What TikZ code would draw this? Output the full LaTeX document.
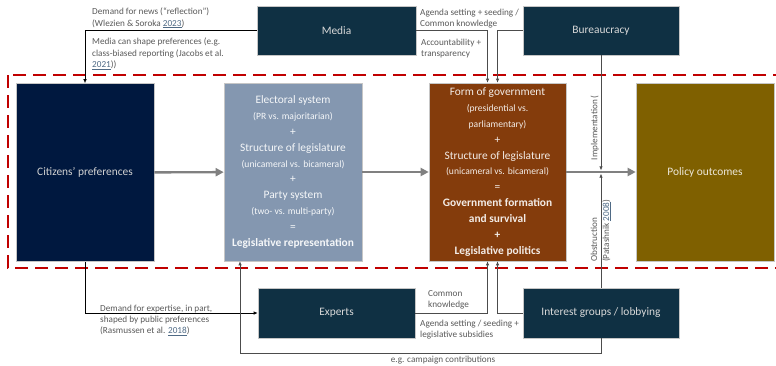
\documentclass[tikz,border=0pt]{standalone}
\usepackage{fontspec}
\setmainfont{Carlito}
\usetikzlibrary{arrows.meta}
\definecolor{citizensblue}{HTML}{00183F}
\definecolor{electoralgray}{HTML}{8497B0}
\definecolor{govbrown}{HTML}{843C0C}
\definecolor{policygold}{HTML}{7F6000}
\definecolor{actorteal}{HTML}{0F3043}
\definecolor{framered}{HTML}{C00000}
\definecolor{notegray}{HTML}{595959}
\definecolor{linkgray}{HTML}{4F6A85}
\newcommand{\refyear}[1]{{\color{linkgray}\underline{#1}}}
\newcommand{\subtext}[1]{{\fontsize{9.6}{15.9}\selectfont #1}}

\begin{document}
\begin{tikzpicture}[x = 1pt, y = -1pt]
\tikzstyle{BoxStyle}=[draw = gray!45, line width = 0.6pt, align = center, inner sep = 2pt,
font = \fontsize{11.4}{15.9}\selectfont]
\tikzstyle{BigBox}=[BoxStyle, minimum width = 138pt, minimum height = 178pt]
\tikzstyle{ActorBox}=[BoxStyle, fill = actorteal, text = gray!30, minimum width = 157pt,
minimum height = 49pt]
\tikzstyle{NoteStyle}=[font = \fontsize{9.2}{11.2}\selectfont, text = notegray, align = left,
inner sep = 0pt, anchor = north west]
\tikzstyle{LinkStyle}=[draw = black!70, line width = 0.7pt, -{Latex[length = 4pt, width = 3.5pt]}]
\tikzstyle{FlowStyle}=[draw = gray, line width = 2.4pt, -{Triangle[length = 8pt, width = 8pt]}]
\useasboundingbox (0,0) rectangle (776,365);
\draw[framered, line width = 2.6pt, dash pattern = on 13pt off 7pt] (8,75) rectangle (784,268);
\node[BigBox, fill = citizensblue, text = gray!35] (citizens) at (85,172.5) {Citizens’ preferences};
\node[BigBox, fill = electoralgray, text = white!92!electoralgray] (electoral) at (293,172)
{Electoral system\\ \subtext{(PR vs. majoritarian)}\\ +\\ Structure of legislature\\
\subtext{(unicameral vs. bicameral)}\\ +\\ Party system\\ \subtext{(two- vs. multi-party)}\\ =\\
\textbf{Legislative representation}};
\node[BigBox, fill = govbrown, text = white!90!govbrown, minimum width = 137pt] (government) at (497.5,172)
{Form of government\\ \subtext{(presidential vs.}\\ \subtext{parliamentary)}\\ +\\
Structure of legislature\\ \subtext{(unicameral vs. bicameral)}\\ =\\ \textbf{Government formation}\\
\textbf{and survival}\\ \textbf{+}\\ \textbf{Legislative politics}};
\node[BigBox, fill = policygold, text = white!85!policygold] (policy) at (705,172) {Policy outcomes};
\node[ActorBox, minimum width = 159pt] (media) at (336.5,30.5) {Media};
\node[ActorBox, minimum width = 156pt] (bureaucracy) at (601,30.5) {Bureaucracy};
\node[ActorBox, minimum height = 50pt] (experts) at (336.5,313) {Experts};
\node[ActorBox, minimum width = 156pt, minimum height = 50pt] (interest) at (601,313)
{Interest groups / lobbying};
\draw[FlowStyle] (citizens) -- (electoral);
\draw[FlowStyle] (electoral) -- (government);
\draw[FlowStyle] (government) -- (policy);
\draw[LinkStyle, draw = black, {Latex[length = 4pt, width = 3.5pt]}-] (citizens.north) |- (media.west);
\draw[LinkStyle] (media.east) -| ([xshift = -10pt]government.north);
\draw[LinkStyle] (bureaucracy.west) -| (government.north);
\draw[LinkStyle, draw = black] (citizens.south) |- (experts.west);
\draw[LinkStyle] (experts.east) -| ([xshift = -10pt]government.south);
\draw[LinkStyle] (interest.west) -| (government.south);
\draw[LinkStyle] (interest.south) -- ++(0,15) -| ([xshift = -53pt]electoral.south);
\draw[LinkStyle] (bureaucracy.south) -- ([yshift = 1.6pt]bureaucracy.south |- policy.west);
\draw[LinkStyle] (interest.north) -- ([yshift = -1.6pt]interest.north |- policy.west);
\node[NoteStyle] (newsnote) at (92,8) {Demand for news (“reflection”)\\(Wlezien \& Soroka \refyear{2023})};
\node[NoteStyle] (shapenote) at (92,38) {Media can shape preferences (e.g.\\class-biased reporting (Jacobs et al.\\\refyear{2021}))};
\node[NoteStyle] (agendanote) at (420,9) {Agenda setting + seeding /\\Common knowledge};
\node[NoteStyle] (accountnote) at (421,39) {Accountability +\\transparency};
\node[NoteStyle] (expertisenote) at (100,305) {Demand for expertise, in part,\\shaped by public preferences\\(Rasmussen et al. \refyear{2018})};
\node[NoteStyle] (commonnote) at (428,290) {Common\\knowledge};
\node[NoteStyle] (subsidynote) at (420,320) {Agenda setting / seeding +\\legislative subsidies};
\node[NoteStyle, anchor = center] (campaignnote) at (443,360) {e.g. campaign contributions};
\node[NoteStyle, rotate = 90, anchor = south east] (implementnote) at (599,95) {Implementation (};
\node[NoteStyle, rotate = 90, anchor = west, align = left, font = \fontsize{9.2}{12}\selectfont]
(obstructnote) at (601,262) {Obstruction\\(Patashnik \refyear{2008})};
\end{tikzpicture}
\end{document}
